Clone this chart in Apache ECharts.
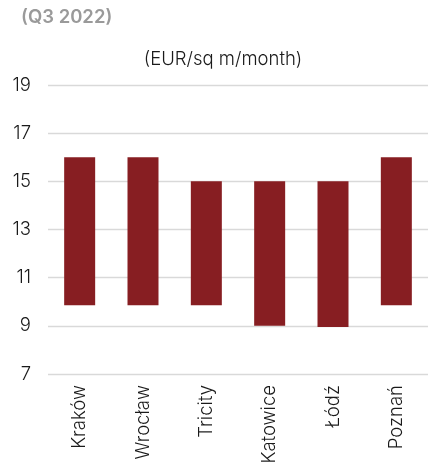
<!DOCTYPE html>
<html>
<head>
<meta charset="utf-8">
<script src="https://cdn.jsdelivr.net/npm/echarts@6/dist/echarts.min.js"></script>
<style>
  html, body { margin: 0; padding: 0; background: #fff; }
  #chart { width: 428px; height: 470px; }
</style>
</head>
<body>
<div id="chart"></div>
<script>
// office rents range per city
const cities = ["Kraków", "Wrocław", "Tricity", "Katowice", "Łódź", "Poznań"];
const lowRent = [9.85, 9.85, 9.85, 9.0, 8.95, 9.85];
const highRent = [16, 16, 15, 15, 15, 16];

const font = "Inter, 'Liberation Sans', sans-serif";

const chart = echarts.init(document.getElementById("chart"));
chart.setOption({
  animation: false,
  title: [
    {
      text: "(Q3 2022)",
      left: 16,
      top: 3,
      textStyle: { fontFamily: font, fontSize: 18.5, fontWeight: 600, color: "#9a9a9a" },
    },
    {
      text: "(EUR/sq m/month)",
      left: 218,
      textAlign: "center",
      top: 45,
      textStyle: { fontFamily: font, fontSize: 18.5, fontWeight: 300, color: "#1a1a1a" },
    },
  ],
  grid: { left: 48, right: 0, top: 85, bottom: 96 },
  xAxis: {
    type: "category",
    data: cities,
    axisLine: { show: false },
    axisTick: { show: false },
    axisLabel: {
      rotate: 90,
      margin: 11,
      fontFamily: font,
      fontSize: 18.5,
      fontWeight: 300,
      color: "#1a1a1a",
    },
  },
  yAxis: {
    type: "value",
    min: 7,
    max: 19,
    interval: 2,
    axisLine: { show: false },
    axisTick: { show: false },
    axisLabel: { margin: 17, fontFamily: font, fontSize: 18.5, fontWeight: 300, color: "#1a1a1a" },
    splitLine: { lineStyle: { color: "#d9d9d9", width: 1.3 } },
  },
  series: [
    {
      type: "bar",
      stack: "range",
      barWidth: 31,
      itemStyle: { color: "transparent" },
      data: lowRent,
    },
    {
      type: "bar",
      stack: "range",
      barWidth: 31,
      itemStyle: { color: "#871e22" },
      data: highRent.map((h, i) => +(h - lowRent[i]).toFixed(2)),
    },
  ],
});
</script>
</body>
</html>
